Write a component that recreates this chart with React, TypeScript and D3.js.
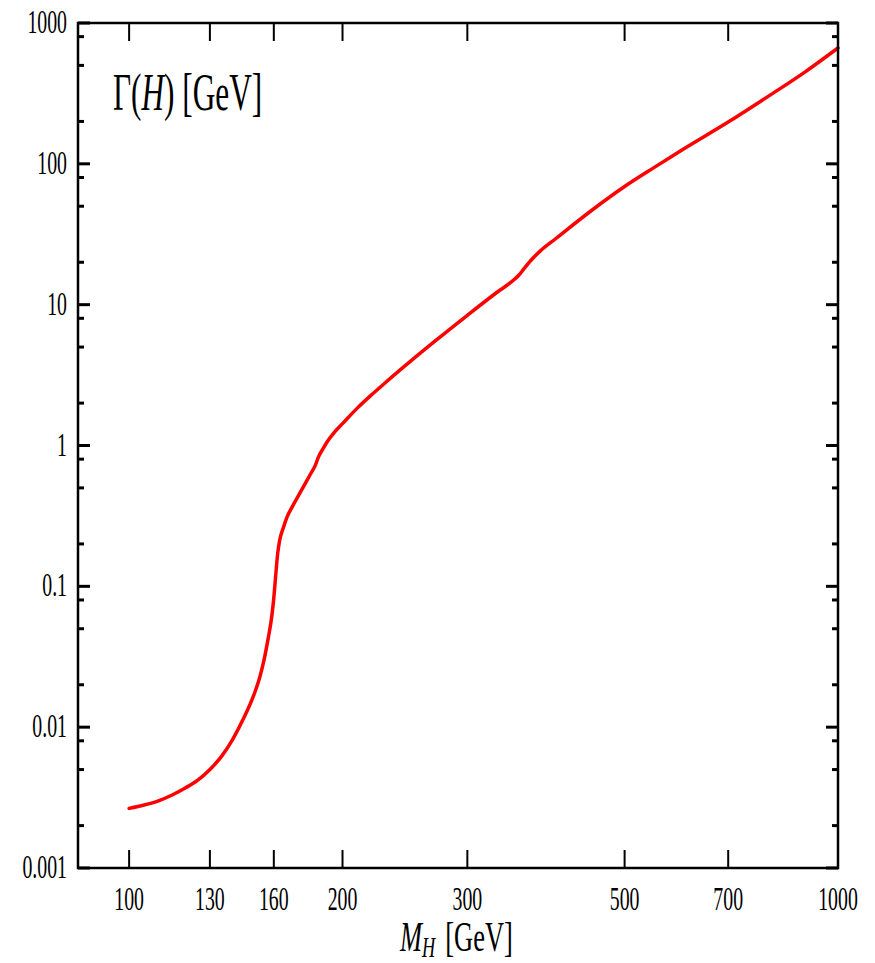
import React from "react";
import * as d3 from "d3";

const massGeV = [100, 105, 110, 115, 120, 125, 130, 135, 140, 145, 150, 153, 155, 157, 159, 160, 161, 162, 163, 165, 167, 170, 175, 180, 183, 185, 188, 190, 195, 200, 210, 220, 230, 250, 270, 300, 330, 350, 355, 360, 370, 380, 400, 450, 500, 550, 600, 700, 800, 900, 1000];
const widthGeV = [0.00265, 0.0028, 0.003, 0.0033, 0.0037, 0.0042, 0.005, 0.0062, 0.0082, 0.0115, 0.017, 0.023, 0.03, 0.042, 0.062, 0.083, 0.12, 0.17, 0.21, 0.26, 0.31, 0.37, 0.48, 0.62, 0.72, 0.83, 0.96, 1.05, 1.25, 1.43, 1.85, 2.3, 2.8, 4.0, 5.5, 8.4, 12.2, 15.2, 16.3, 17.8, 21.0, 24.0, 29.5, 47, 69, 94, 124, 198, 305, 452, 665];

const xTickValues = [100, 130, 160, 200, 300, 500, 700, 1000];
const yMajorTicks = [0.001, 0.01, 0.1, 1, 10, 100, 1000];
const yTickLabels = ["0.001", "0.01", "0.1", "1", "10", "100", "1000"];
const yMinorMultipliers = [2, 5, 8];

const W = 875;
const H = 963;
const left = 78, right = 838, top = 23, bottom = 868;
const SX = 0.6;
const FONT = "'Liberation Serif', 'DejaVu Serif', serif";

export default function App() {
  const x = d3.scaleLog().domain([84.7, 1000]).range([left, right]);
  const y = d3.scaleLog().domain([0.001, 1000]).range([bottom, top]);

  const line = d3
    .line<number>()
    .x((_, i) => x(massGeV[i]))
    .y((d) => y(d))
    .curve(d3.curveMonotoneX);

  const minor: number[] = [];
  yMajorTicks.slice(0, -1).forEach((m) => yMinorMultipliers.forEach((k) => minor.push(m * k)));

  return (
    <svg width={W} height={H} style={{ position: "absolute", left: 0, top: 0, background: "#fff" }}>
      <rect x={0} y={0} width={W} height={H} fill="#fff" />
      <path d={line(widthGeV) || ""} fill="none" stroke="#ff0000" strokeWidth={3.5} strokeLinejoin="round" strokeLinecap="round" />
      {/* x ticks */}
      {xTickValues.map((v) => (
        <g key={"xt" + v}>
          <line x1={x(v)} x2={x(v)} y1={bottom} y2={bottom - 18} stroke="#000" strokeWidth={2} />
          <line x1={x(v)} x2={x(v)} y1={top} y2={top + 18} stroke="#000" strokeWidth={2} />
          <text
            transform={`translate(${x(v)},910) scale(${SX},1)`}
            textAnchor="middle"
            fontFamily={FONT}
            fontSize={33}
            fill="#000"
          >
            {v}
          </text>
        </g>
      ))}
      {/* y ticks */}
      {yMajorTicks.map((v, i) => (
        <g key={"yt" + v}>
          <line x1={left} x2={left + 12} y1={y(v)} y2={y(v)} stroke="#000" strokeWidth={3} />
          <line x1={right} x2={right - 12} y1={y(v)} y2={y(v)} stroke="#000" strokeWidth={3} />
          <text
            transform={`translate(67,${y(v) + 10}) scale(${SX},1)`}
            textAnchor="end"
            fontFamily={FONT}
            fontSize={33}
            fill="#000"
          >
            {yTickLabels[i]}
          </text>
        </g>
      ))}
      {minor.map((v) => (
        <g key={"ym" + v}>
          <line x1={left} x2={left + 6} y1={y(v)} y2={y(v)} stroke="#000" strokeWidth={3} />
          <line x1={right} x2={right - 6} y1={y(v)} y2={y(v)} stroke="#000" strokeWidth={3} />
        </g>
      ))}
      <rect x={left} y={top} width={right - left} height={bottom - top} fill="none" stroke="#000" strokeWidth={2.5} />
      {/* labels */}
      <text transform={`translate(113,110) scale(0.59,1)`} fontFamily={FONT} fontSize={53} fill="#000">
        Γ(<tspan fontStyle="italic">H</tspan>) [GeV]
      </text>
      <text transform={`translate(400,951) scale(0.63,1)`} fontFamily={FONT} fontSize={42} fill="#000">
        <tspan fontStyle="italic">M</tspan>
        <tspan fontStyle="italic" fontSize={29} dy={6}>H</tspan>
        <tspan dy={-6} dx={16}>[GeV]</tspan>
      </text>
    </svg>
  );
}
